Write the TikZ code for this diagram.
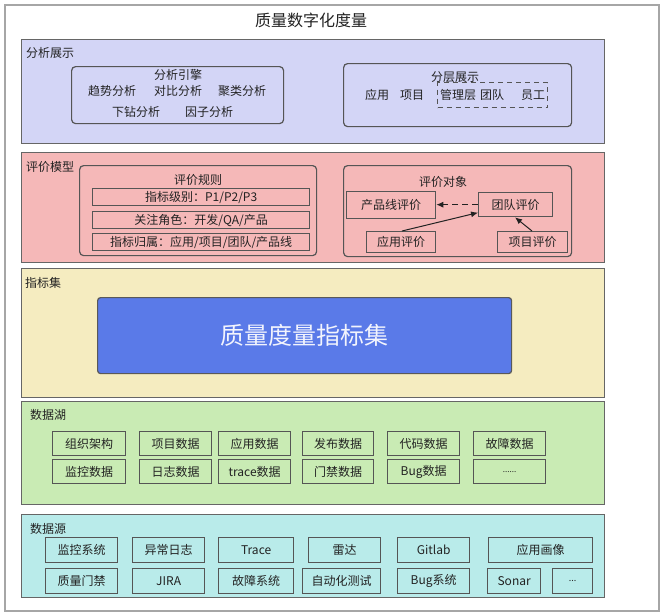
\documentclass[tikz,border=0pt]{standalone}
\usepackage{fontspec}
\setmainfont{Noto Sans CJK SC}
\usetikzlibrary{calc,arrows.meta}
\definecolor{cLav}{HTML}{D3D5F6}
\definecolor{cPink}{HTML}{F5B8B8}
\definecolor{cBeige}{HTML}{F5ECC0}
\definecolor{cGreen}{HTML}{C9EBB4}
\definecolor{cCyan}{HTML}{B9EBEA}
\definecolor{cBlue}{HTML}{5A7AE8}
\definecolor{cEdge}{HTML}{555555}
\definecolor{cInk}{HTML}{222222}
\begin{document}
\begin{tikzpicture}[x=1pt,y=-1pt,
  sec/.style={draw=cEdge!90, line width=1.2pt, anchor=north west, inner sep=0pt},
  box/.style={draw=cEdge, line width=1.3pt, anchor=north west, inner sep=0pt,
    font=\fontsize{12}{14}\selectfont, text=cInk},
  rbox/.style={draw=cEdge, line width=1.2pt, rounded corners=4pt, anchor=north west, inner sep=0pt},
  lbl/.style={anchor=west, inner sep=0pt, font=\fontsize{12}{14}\selectfont, text=cInk},
  txt/.style={inner sep=0pt, font=\fontsize{12}{14}\selectfont, text=cInk},
  arr/.style={-{Latex[length=7pt,width=6pt]}, line width=1pt, draw=cInk}
]
\useasboundingbox (0,0) rectangle (664,614);
% outer frame
\node[draw=gray!70, line width=1.5pt, anchor=north west, inner sep=0pt,
  minimum width=654pt, minimum height=606pt] (frame) at (4,4) {};
\node[inner sep=0pt, font=\fontsize{16}{18}\selectfont, text=cInk] (title) at (311,20) {质量数字化度量};

% ---------- 分析展示 ----------
\node[sec, fill=cLav, minimum width=583pt, minimum height=104pt] (s1) at (21,39) {};
\node[lbl] (s1l) at (26,53) {分析展示};
\node[rbox, minimum width=212pt, minimum height=57pt] (eng) at (71,66) {};
\node[txt] (engt) at (178,75) {分析引擎};
\node[txt] (e1) at (112,91) {趋势分析};
\node[txt] (e2) at (178,91) {对比分析};
\node[txt] (e3) at (242,91) {聚类分析};
\node[txt] (e4) at (136,112) {下钻分析};
\node[txt] (e5) at (209,112) {因子分析};
\node[rbox, minimum width=228pt, minimum height=63pt] (lay) at (343,63) {};
\node[draw=cEdge, line width=1.2pt, dashed, dash pattern=on 5pt off 4pt, anchor=north west, inner sep=0pt,
  minimum width=110pt, minimum height=25pt] (dash) at (437,82) {};
\node[txt] (layt) at (455,77) {分层展示};
\node[txt] (l1) at (377,95) {应用};
\node[txt] (l2) at (412,95) {项目};
\node[txt] (l3) at (458,95) {管理层};
\node[txt] (l4) at (492,95) {团队};
\node[txt] (l5) at (533,95) {员工};

% ---------- 评价模型 ----------
\node[sec, fill=cPink, minimum width=583pt, minimum height=110pt] (s2) at (21,152) {};
\node[lbl] (s2l) at (26,167) {评价模型};
\node[rbox, minimum width=237pt, minimum height=90pt] (rule) at (79,165) {};
\node[txt] (rulet) at (198,180) {评价规则};
\node[box, minimum width=217pt, minimum height=17pt] (r1) at (92,188) {指标级别：P1/P2/P3};
\node[box, minimum width=217pt, minimum height=17pt] (r2) at (92,211) {关注角色：开发/QA/产品};
\node[box, minimum width=217pt, minimum height=17pt] (r3) at (92,233) {指标归属：应用/项目/团队/产品线};
\node[rbox, minimum width=228pt, minimum height=91pt] (obj) at (343,165) {};
\node[txt] (objt) at (443,182) {评价对象};
\node[box, minimum width=89pt, minimum height=27pt] (cpx) at (346,191) {产品线评价};
\node[box, minimum width=74pt, minimum height=24pt] (td) at (478,192) {团队评价};
\node[box, minimum width=69pt, minimum height=21pt] (yy) at (366,231) {应用评价};
\node[box, minimum width=70pt, minimum height=21pt] (xm) at (497,231) {项目评价};
\draw[arr, dashed, dash pattern=on 6pt off 4pt] (td.west) -- (td.west -| cpx.east);
\draw[arr] ($(yy.north west)+(36,0)$) -- ($(td.west)+(0,8)$);
\draw[arr] ($(xm.north west)+(35,0)$) -- ($(td.south west)+(37,0)$);

% ---------- 指标集 ----------
\node[sec, fill=cBeige, minimum width=583pt, minimum height=129pt] (s3) at (21,268) {};
\node[lbl] (s3l) at (25,283) {指标集};
\node[draw=black!65, line width=1.2pt, rounded corners=3pt, fill=cBlue, anchor=north west, inner sep=0pt,
  minimum width=414pt, minimum height=76pt, text=white!92!cBlue,
  font=\fontsize{24}{28}\selectfont] (ind) at (97,297) {质量度量指标集};

% ---------- 数据湖 ----------
\node[sec, fill=cGreen, minimum width=583pt, minimum height=103pt] (s4) at (21,401) {};
\node[lbl] (s4l) at (30,415) {数据湖};
\node[box, minimum width=73pt, minimum height=24pt] (d11) at (52,431) {组织架构};
\node[box, minimum width=72pt, minimum height=24pt] (d12) at (139,431) {项目数据};
\node[box, minimum width=72pt, minimum height=24pt] (d13) at (218,431) {应用数据};
\node[box, minimum width=71pt, minimum height=24pt] (d14) at (302,431) {发布数据};
\node[box, minimum width=72pt, minimum height=24pt] (d15) at (387,431) {代码数据};
\node[box, minimum width=72pt, minimum height=24pt] (d16) at (473,431) {故障数据};
\node[box, minimum width=73pt, minimum height=24pt] (d21) at (52,459) {监控数据};
\node[box, minimum width=72pt, minimum height=24pt] (d22) at (139,459) {日志数据};
\node[box, minimum width=72pt, minimum height=24pt] (d23) at (218,459) {trace数据};
\node[box, minimum width=71pt, minimum height=24pt] (d24) at (302,459) {门禁数据};
\node[box, minimum width=72pt, minimum height=24pt] (d25) at (387,459) {Bug数据};
\node[box, minimum width=72pt, minimum height=24pt, font=\fontsize{8}{10}\selectfont] (d26) at (473,459) {......};

% ---------- 数据源 ----------
\node[sec, fill=cCyan, minimum width=583pt, minimum height=83pt] (s5) at (21,514) {};
\node[lbl] (s5l) at (30,529) {数据源};
\node[box, minimum width=72pt, minimum height=25pt] (a11) at (45,537) {监控系统};
\node[box, minimum width=72pt, minimum height=25pt] (a12) at (132,537) {异常日志};
\node[box, minimum width=75pt, minimum height=25pt] (a13) at (218,537) {Trace};
\node[box, minimum width=72pt, minimum height=25pt] (a14) at (308,537) {雷达};
\node[box, minimum width=72pt, minimum height=25pt] (a15) at (397,537) {Gitlab};
\node[box, minimum width=104pt, minimum height=25pt] (a16) at (488,537) {应用画像};
\node[box, minimum width=72pt, minimum height=25pt] (a21) at (45,568) {质量门禁};
\node[box, minimum width=72pt, minimum height=25pt] (a22) at (132,568) {JIRA};
\node[box, minimum width=75pt, minimum height=25pt] (a23) at (218,568) {故障系统};
\node[box, minimum width=78pt, minimum height=25pt] (a24) at (302,568) {自动化测试};
\node[box, minimum width=72pt, minimum height=25pt] (a25) at (397,568) {Bug系统};
\node[box, minimum width=53pt, minimum height=25pt] (a26) at (487,568) {Sonar};
\node[box, minimum width=40pt, minimum height=25pt, font=\fontsize{9}{10}\selectfont] (a27) at (552,568) {...};
\end{tikzpicture}
\end{document}
